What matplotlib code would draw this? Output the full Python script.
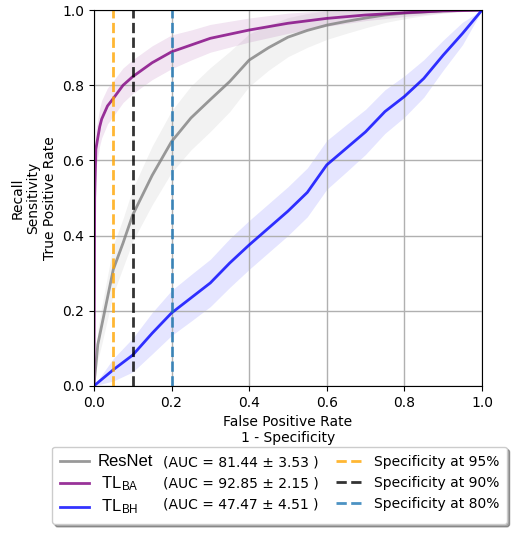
import numpy as np
import matplotlib
matplotlib.use('Agg')
import matplotlib.pyplot as plt
from matplotlib.lines import Line2D

# ROC curves (mean tpr and std band)
resnet_fpr = [0, 0.01, 0.02, 0.05, 0.075, 0.1, 0.15, 0.2, 0.25, 0.3, 0.35, 0.4, 0.45,
              0.5, 0.55, 0.6, 0.65, 0.7, 0.75, 0.8, 0.85, 0.9, 0.95, 1.0]
resnet_tpr = [0, 0.11, 0.16, 0.31, 0.38, 0.455, 0.56, 0.65, 0.713, 0.762, 0.81, 0.867, 0.9,
              0.928, 0.946, 0.96, 0.97, 0.979, 0.987, 0.992, 0.995, 0.998, 0.999, 1.0]
resnet_std = [0, 0.04, 0.05, 0.065, 0.065, 0.07, 0.078, 0.082, 0.085, 0.085, 0.08, 0.07, 0.06,
              0.052, 0.045, 0.038, 0.032, 0.026, 0.02, 0.015, 0.01, 0.006, 0.003, 0]

ba_fpr = [0, 0.002, 0.005, 0.01, 0.015, 0.02, 0.035, 0.05, 0.075, 0.1, 0.15, 0.2, 0.25,
          0.3, 0.4, 0.5, 0.6, 0.7, 0.8, 0.9, 1.0]
ba_tpr = [0, 0.5, 0.63, 0.66, 0.69, 0.71, 0.745, 0.765, 0.80, 0.823, 0.86, 0.889, 0.907,
          0.925, 0.947, 0.965, 0.978, 0.987, 0.993, 0.998, 1.0]
ba_std = [0, 0.05, 0.05, 0.05, 0.05, 0.05, 0.048, 0.047, 0.046, 0.045, 0.045, 0.045, 0.04,
          0.037, 0.032, 0.027, 0.021, 0.015, 0.01, 0.005, 0]

bh_fpr = [0, 0.05, 0.1, 0.15, 0.2, 0.25, 0.3, 0.35, 0.4, 0.45, 0.5, 0.55, 0.6, 0.65,
          0.7, 0.75, 0.8, 0.85, 0.9, 0.95, 1.0]
bh_tpr = [0, 0.043, 0.082, 0.14, 0.194, 0.234, 0.274, 0.327, 0.375, 0.42, 0.465, 0.515,
          0.588, 0.632, 0.676, 0.73, 0.77, 0.818, 0.88, 0.938, 1.0]
bh_std = [0, 0.03, 0.045, 0.055, 0.06, 0.062, 0.063, 0.065, 0.065, 0.065, 0.065, 0.065,
          0.065, 0.063, 0.06, 0.058, 0.055, 0.05, 0.04, 0.03, 0]

model_names = ['ResNet', r' $\mathrm{TL_{BA}}$', r' $\mathrm{TL_{BH}}$']
auc_labels = ['(AUC = 81.44 ± 3.53 )', '(AUC = 92.85 ± 2.15 )', '(AUC = 47.47 ± 4.51 )']
spec_x = [0.05, 0.1, 0.2]
spec_labels = ['Specificity at 95%', 'Specificity at 90%', 'Specificity at 80%']

plt.rcParams['mathtext.fontset'] = 'custom'
plt.rcParams['mathtext.rm'] = 'Liberation Sans'
plt.rcParams['mathtext.it'] = 'Liberation Sans:italic'

fig = plt.figure(figsize=(5.16, 5.33), dpi=100)
ax = fig.add_axes([0.182, 0.276, 0.752, 0.705])

curves = [(resnet_fpr, resnet_tpr, resnet_std, 'gray'),
          (ba_fpr, ba_tpr, ba_std, 'purple'),
          (bh_fpr, bh_tpr, bh_std, 'blue')]
handles = []
for fpr, tpr, std, c in curves:
    fpr = np.array(fpr); tpr = np.array(tpr); std = np.array(std)
    ln, = ax.plot(fpr, tpr, color=c, lw=2, alpha=0.8)
    ax.fill_between(fpr, np.clip(tpr - std, 0, 1), np.clip(tpr + std, 0, 1), color=c, alpha=0.1, lw=0)
    handles.append(ln)

spec_cols = ['orange', 'black', 'tab:blue']
spec_handles = []
for sx, c in zip(spec_x, spec_cols):
    ln = ax.axvline(sx, color=c, ls='--', lw=2, alpha=0.8)
    spec_handles.append(ln)

ax.set_xlim(0, 1)
ax.set_ylim(0, 1)
ax.grid(True, color='#b0b0b0', lw=1)
ax.set_xlabel('False Positive Rate\n1 - Specificity', fontsize=10)
ax.set_ylabel('Recall\nSensitivity\nTrue Positive Rate', fontsize=10)

blank = [Line2D([], [], alpha=0) for _ in range(3)]
leg = fig.legend(handles + blank + spec_handles, model_names + auc_labels + spec_labels,
                 ncol=3, loc='upper center', bbox_to_anchor=(0.5417, 0.162),
                 shadow=True, fontsize=10, columnspacing=1.25, handlelength=2.1,
                 handletextpad=0.6, borderaxespad=0, borderpad=0.55, framealpha=1)
for t in leg.get_texts()[:3]:
    t.set_fontsize(12)
    t.set_family('Liberation Sans')
cols = leg._legend_handle_box.get_children()
cols[0].sep = 3.5
for item in cols[1].get_children():
    item.get_children()[0].width = 0
    item.sep = -5

fig.savefig('out.png', dpi=100)
